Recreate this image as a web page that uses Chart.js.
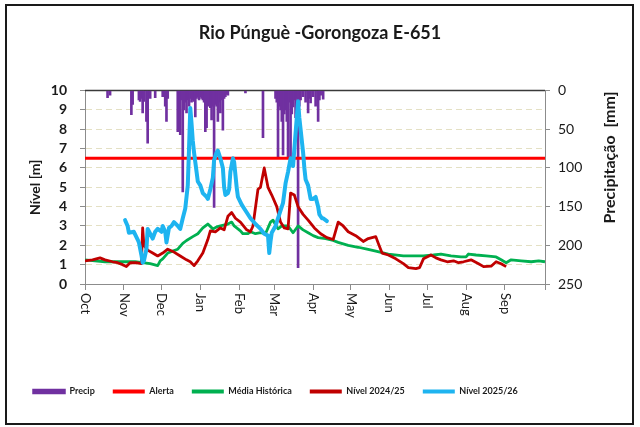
<!DOCTYPE html>
<html lang="pt">
<head>
<meta charset="utf-8">
<title>Rio Púnguè -Gorongoza E-651</title>
<script src="https://cdn.jsdelivr.net/npm/chart.js@4.4.1/dist/chart.umd.min.js"></script>
<style>
  html, body { margin: 0; padding: 0; background: #fff; }
  #wrap { position: relative; width: 640px; height: 427px; }
  #frame { position: absolute; left: 5px; top: 4px; width: 625px; height: 417px; border: 2px solid #1a1a1a; pointer-events: none; }
  canvas { position: absolute; left: 0; top: 0; }
</style>
</head>
<body>
<div id="wrap">
  <canvas id="grafico" width="640" height="427"></canvas>
  <div id="frame"></div>
</div>
<script>
// days counted from 1 October
const mesesDias = [0, 31, 61, 92, 123, 151, 182, 212, 243, 273, 304, 335];
const mesesRotulos = ['Oct', 'Nov', 'Dec', 'Jan', 'Feb', 'Mar', 'Apr', 'May', 'Jun', 'Jul', 'Aug', 'Sep'];
const fimEixo = 367;
const alertaNivel = 6.5;

const precipDias = [18, 20, 37, 38, 43, 44, 45, 46, 47, 49, 50, 52, 56, 62, 64, 65, 66,
  74, 75, 76, 77, 78, 79, 80, 81, 82, 83, 84, 85, 86, 87, 88, 89, 90, 91, 92, 93, 94,
  95, 96, 97, 98, 99, 100, 101, 102, 103, 104, 105, 106, 107, 108, 109, 110, 111, 112, 113, 114,
  128, 142, 152, 153, 154, 155, 156, 157, 158, 159, 160, 161, 162, 163, 164, 165, 166, 167,
  168, 169, 170, 171, 172, 174, 176, 178, 179, 180, 182, 184, 186, 187, 188, 190];
const precipMm = [9, 6, 31, 18, 12, 14, 10, 29, 14, 40, 68, 10, 9, 8, 20, 40, 10,
  53, 20, 57, 12, 131, 25, 15, 29, 12, 20, 10, 15, 12, 14, 34, 10, 8, 12, 8, 10, 12,
  15, 53, 48, 20, 14, 22, 38, 20, 151, 18, 20, 40, 15, 29, 12, 51, 10, 8, 5, 6,
  3, 61, 10, 15, 86, 20, 25, 40, 83, 30, 25, 40, 87, 15, 92, 30, 21, 12,
  35, 10, 229, 20, 12, 8, 15, 29, 10, 16, 8, 20, 40, 12, 6, 11];

const mediaDias = [0, 8, 16, 28, 40, 46, 52, 58, 60, 62, 66, 70, 74, 78, 81, 86, 90, 94, 98, 102,
  105, 108, 114, 117, 119, 122, 124, 126, 130, 132, 136, 140, 144, 148, 150, 154, 157, 162, 166,
  170, 174, 178, 182, 186, 192, 198, 202, 210, 218, 225, 232, 242, 254, 262, 270, 278, 284, 292,
  300, 304, 306, 312, 320, 328, 332, 336, 340, 348, 356, 362, 367];
const mediaNivel = [1.25, 1.2, 1.15, 1.15, 1.15, 1.1, 1.05, 0.95, 1.2, 1.3, 1.6, 1.7, 1.8, 2.1, 2.25,
  2.45, 2.6, 2.9, 3.1, 2.85, 2.95, 3.0, 3.1, 3.2, 3.0, 2.85, 2.75, 2.6, 2.6, 2.7, 2.6, 2.65, 2.6,
  3.2, 3.3, 2.85, 3.0, 3.0, 2.65, 3.0, 2.8, 2.65, 2.5, 2.4, 2.35, 2.25, 2.15, 2.0, 1.9, 1.8, 1.7,
  1.55, 1.45, 1.45, 1.45, 1.5, 1.55, 1.45, 1.4, 1.4, 1.55, 1.5, 1.45, 1.4, 1.25, 1.1, 1.25, 1.2,
  1.15, 1.2, 1.15];

const nivel2425Dias = [0, 6, 12, 16, 22, 26, 30, 33, 36, 41, 45, 46, 47, 50, 54, 58, 62, 66, 71, 76,
  81, 84, 87, 90, 94, 98, 100, 104, 108, 111, 114, 117, 120, 124, 129, 132, 134, 138, 140, 143,
  146, 149, 153, 156, 159, 162, 164, 167, 170, 174, 178, 183, 188, 193, 198, 202, 206, 210, 216,
  222, 226, 232, 234, 237, 242, 248, 254, 258, 264, 267, 270, 276, 280, 284, 289, 294, 298, 302,
  308, 314, 318, 324, 328, 332, 336];
const nivel2425 = [1.2, 1.25, 1.35, 1.25, 1.15, 1.1, 1.0, 0.9, 1.1, 1.1, 1.05, 2.9, 2.0, 1.75, 1.6,
  1.45, 1.6, 1.8, 1.65, 1.45, 1.25, 1.15, 0.95, 1.2, 1.6, 2.3, 2.75, 2.7, 2.9, 2.8, 3.5, 3.7, 3.4,
  3.2, 2.8, 2.7, 3.0, 4.9, 5.0, 6.0, 5.0, 4.6, 4.0, 3.2, 2.9, 2.85, 4.7, 4.6, 4.0, 3.6, 3.3, 2.9,
  2.6, 2.4, 2.3, 3.2, 3.0, 2.7, 2.5, 2.2, 2.35, 2.45, 2.1, 1.6, 1.5, 1.3, 1.05, 0.85, 0.8, 0.85,
  1.3, 1.5, 1.35, 1.25, 1.15, 1.2, 1.1, 1.15, 1.25, 1.05, 0.9, 0.92, 1.15, 1.05, 0.9];

const nivel2526Dias = [32, 34, 35, 39, 42, 43, 45, 46, 47, 49, 50, 52, 54, 56, 58, 61, 62, 64, 65,
  67, 69, 71, 74, 76, 78, 80, 82, 83, 84, 85, 86, 87, 89, 90, 92, 94, 97, 98, 100, 102, 103, 105,
  106, 108, 110, 111, 112, 114, 115, 116, 118, 119, 121, 122, 125, 128, 132, 136, 140, 143, 146,
  147, 148, 149, 152, 155, 158, 160, 162, 164, 166, 168, 170, 171, 172, 174, 175, 176, 178, 180,
  182, 184, 186, 187, 189, 190, 193];
const nivel2526 = [3.3, 3.0, 2.65, 2.7, 2.3, 2.15, 1.5, 1.1, 1.2, 1.8, 2.85, 2.6, 2.35, 2.7, 2.85,
  2.7, 3.0, 2.7, 2.15, 2.9, 3.0, 3.2, 3.0, 2.85, 3.4, 3.9, 5.1, 7.0, 9.1, 8.3, 7.4, 6.8, 5.8, 5.3,
  5.1, 4.7, 4.5, 4.4, 4.9, 5.5, 6.4, 6.8, 6.9, 6.5, 6.0, 5.0, 4.6, 4.7, 4.9, 5.8, 6.5, 6.3, 5.0,
  4.5, 4.1, 3.8, 3.4, 3.1, 2.85, 2.6, 2.5, 1.6, 2.2, 2.65, 3.0, 3.6, 4.2, 5.2, 5.8, 6.5, 6.1, 7.8,
  9.45, 8.6, 8.0, 6.8, 6.0, 5.4, 5.1, 4.4, 4.4, 4.5, 4.0, 3.6, 3.4, 3.4, 3.25];

Chart.defaults.font.family = 'Lato, "Open Sans", sans-serif';
Chart.defaults.color = '#1a1a1a';

const pts = (xs, ys) => xs.map((x, i) => ({ x, y: ys[i] }));
const eixoCinza = '#8c8c8c';

const desenhos = {
  id: 'desenhos',
  beforeDatasetsDraw(chart) {
    const { ctx, chartArea } = chart;
    ctx.save();
    ctx.strokeStyle = '#3a3a3a';
    ctx.lineWidth = 1.5;
    ctx.beginPath();
    ctx.moveTo(chartArea.left, chartArea.top);
    ctx.lineTo(chartArea.right, chartArea.top);
    ctx.stroke();
    ctx.restore();
  },
  afterDraw(chart) {
    const { ctx, chartArea, scales } = chart;
    ctx.save();
    ctx.fillStyle = '#1a1a1a';
    ctx.font = '13px Lato, sans-serif';
    ctx.textAlign = 'left';
    ctx.textBaseline = 'middle';
    mesesDias.forEach((d, i) => {
      const x = scales.x.getPixelForValue(d);
      ctx.save();
      ctx.translate(x, chartArea.bottom + 9);
      ctx.rotate(Math.PI / 2);
      ctx.fillText(mesesRotulos[i], 0, 0);
      ctx.restore();
    });
    // right axis title reads bottom to top, aligned to the top of the plot
    ctx.font = 'bold 16px Lato, sans-serif';
    ctx.textAlign = 'right';
    ctx.translate(610, chartArea.top + 1);
    ctx.rotate(-Math.PI / 2);
    ctx.fillText('Precipitação  [mm]', 0, 0);
    ctx.restore();
  }
};

new Chart(document.getElementById('grafico'), {
  type: 'bar',
  data: {
    datasets: [
      {
        label: 'Precip',
        data: pts(precipDias, precipMm),
        yAxisID: 'y2',
        backgroundColor: '#7030a0',
        borderColor: '#7030a0',
        barThickness: 2,
        grouped: false,
        order: 5
      },
      {
        type: 'line',
        label: 'Alerta',
        data: pts([0, fimEixo], [alertaNivel, alertaNivel]),
        yAxisID: 'y',
        borderColor: '#ff0000',
        backgroundColor: '#ff0000',
        borderWidth: 3,
        pointRadius: 0,
        order: 4
      },
      {
        type: 'line',
        label: 'Média Histórica',
        data: pts(mediaDias, mediaNivel),
        yAxisID: 'y',
        borderColor: '#00b050',
        backgroundColor: '#00b050',
        borderWidth: 2.8,
        pointRadius: 0,
        borderJoinStyle: 'round',
        order: 3
      },
      {
        type: 'line',
        label: 'Nível 2024/25',
        data: pts(nivel2425Dias, nivel2425),
        yAxisID: 'y',
        borderColor: '#c00000',
        backgroundColor: '#c00000',
        borderWidth: 2.8,
        pointRadius: 0,
        borderJoinStyle: 'round',
        order: 2
      },
      {
        type: 'line',
        label: 'Nível 2025/26',
        data: pts(nivel2526Dias, nivel2526),
        yAxisID: 'y',
        borderColor: '#1eb4f0',
        backgroundColor: '#1eb4f0',
        borderWidth: 4,
        pointRadius: 0,
        borderJoinStyle: 'round',
        borderCapStyle: 'round',
        order: 1
      }
    ]
  },
  options: {
    responsive: false,
    animation: false,
    layout: { padding: { left: 15, right: 15, top: 0, bottom: 21 } },
    plugins: {
      title: {
        display: true,
        text: 'Rio Púnguè -Gorongoza E-651',
        font: { size: 18, weight: 'bold' },
        color: '#1a1a1a',
        padding: { top: 22, bottom: 47 }
      },
      legend: {
        position: 'bottom',
        align: 'start',
        labels: {
          boxWidth: 32,
          boxHeight: 4,
          padding: 18,
          color: '#1a1a1a',
          font: { size: 9, weight: 'bold' },
          sort: (a, b) => a.datasetIndex - b.datasetIndex,
          generateLabels(chart) {
            const items = Chart.defaults.plugins.legend.labels.generateLabels(chart);
            return items.map(it => {
              const c = chart.data.datasets[it.datasetIndex].borderColor;
              return { ...it, fillStyle: c, strokeStyle: c, lineWidth: it.datasetIndex === 0 ? 1.5 : 0, lineDash: [] };
            });
          }
        }
      },
      tooltip: { enabled: false }
    },
    scales: {
      x: {
        type: 'linear',
        min: 0,
        max: fimEixo,
        offset: false,
        afterBuildTicks: (scale) => { scale.ticks = mesesDias.concat([fimEixo]).map(v => ({ value: v })); },
        afterFit: (scale) => { scale.height = 85; },
        ticks: { display: false },
        grid: { offset: false, drawOnChartArea: false, drawTicks: true, tickLength: 6, color: eixoCinza },
        border: { color: eixoCinza, width: 1 }
      },
      y: {
        position: 'left',
        min: 0,
        max: 10,
        afterFit: (scale) => { scale.width = 70; },
        ticks: { stepSize: 1, autoSkip: false, padding: 13, color: '#1a1a1a', font: { size: 14, weight: 'bold' } },
        grid: {
          color: (c) => (c.tick && (c.tick.value === 0 || c.tick.value === 10)) ? 'rgba(0,0,0,0)' : '#e4e0c4',
          tickColor: eixoCinza,
          tickLength: 5,
          tickBorderDash: [],
          lineWidth: 1
        },
        border: { color: eixoCinza, width: 1, dash: [6, 4] },
        title: {
          display: true,
          text: 'Nível [m]',
          color: '#1a1a1a',
          font: { size: 14, weight: 'bold' },
          padding: { top: 12, bottom: 0 }
        }
      },
      y2: {
        position: 'right',
        reverse: true,
        min: 0,
        max: 250,
        afterFit: (scale) => { scale.width = 80; },
        ticks: { stepSize: 50, autoSkip: false, padding: 8, color: '#1a1a1a', font: { size: 14 } },
        grid: { drawOnChartArea: false, tickLength: 5, color: eixoCinza },
        border: { color: eixoCinza, width: 1 }
      }
    }
  },
  plugins: [desenhos]
});
</script>
</body>
</html>
